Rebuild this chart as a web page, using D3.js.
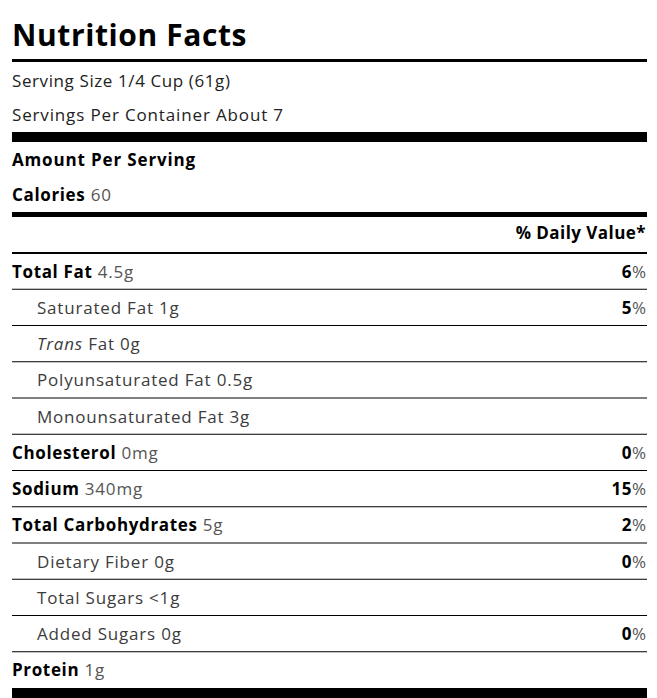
<!DOCTYPE html>
<html>
<head>
<meta charset="utf-8">
<script src="https://cdn.jsdelivr.net/npm/d3@7/dist/d3.min.js"></script>
<style>
  html, body { margin: 0; padding: 0; background: #fff; }
  svg { display: block; }
  text { font-family: "Open Sans", "DejaVu Sans", sans-serif; }
</style>
</head>
<body>
<svg id="chart" width="657" height="698"></svg>
<script>
// ---- data ----
const title = "Nutrition Facts";
const servingSize = "Serving Size 1/4 Cup (61g)";
const servingsPer = "Servings Per Container About 7";
const amountHeader = "Amount Per Serving";
const caloriesLabel = "Calories";
const caloriesValue = "60";
const dvHeader = "% Daily Value*";

const nutrients = ["Total Fat", "Saturated Fat", "Trans Fat", "Polyunsaturated Fat", "Monounsaturated Fat",
  "Cholesterol", "Sodium", "Total Carbohydrates", "Dietary Fiber", "Total Sugars", "Added Sugars", "Protein"];
const amounts = ["4.5g", "1g", "0g", "0.5g", "3g", "0mg", "340mg", "5g", "0g", "<1g", "0g", "1g"];
const dailyValues = [6, 5, null, null, null, 0, 15, 2, 0, null, 0, null];
const isSub = [false, true, true, true, true, false, false, false, true, true, true, false];

const rows = nutrients.map((n, i) => ({ name: n, amount: amounts[i], dv: dailyValues[i], sub: isSub[i] }));

// ---- layout ----
const svg = d3.select("#chart");
const X0 = 12, X1 = 647;
const x = d3.scaleLinear().domain([0, 1]).range([X0, X1]);
const y = d3.scaleBand().domain(d3.range(rows.length)).range([253, 688]).padding(0);

const dark = "#222", subc = "#3c3c3c", gray = "#555";
const fs = 17, lsR = 0.8, lsB = 0.65;

svg.append("text").attr("x", X0).attr("y", 46)
  .attr("font-size", 30).attr("font-weight", 700).attr("fill", "#000")
  .attr("letter-spacing", 0.6).text(title);

function bar(y0, h) {
  svg.append("rect").attr("x", x(0)).attr("y", y0).attr("width", x(1) - x(0)).attr("height", h).attr("fill", "#000");
}
bar(59, 3);

svg.append("text").attr("x", X0).attr("y", 87).attr("font-size", fs).attr("fill", dark)
  .attr("letter-spacing", 0.6).text(servingSize);
svg.append("text").attr("x", X0).attr("y", 121).attr("font-size", fs).attr("fill", dark)
  .attr("letter-spacing", 0.85).text(servingsPer);

bar(132, 10);

svg.append("text").attr("x", X0).attr("y", 166).attr("font-size", fs).attr("font-weight", 700)
  .attr("fill", "#000").attr("letter-spacing", 0.85).text(amountHeader);

const cal = svg.append("text").attr("x", X0).attr("y", 201).attr("font-size", fs);
cal.append("tspan").attr("font-weight", 700).attr("fill", "#000").attr("letter-spacing", lsB).text(caloriesLabel);
cal.append("tspan").attr("fill", gray).attr("letter-spacing", lsR).text(" " + caloriesValue);

bar(212, 5);

svg.append("text").attr("x", 646).attr("y", 239).attr("text-anchor", "end").attr("font-size", fs)
  .attr("font-weight", 700).attr("fill", "#000").attr("letter-spacing", 0.45).text(dvHeader);

bar(252, 2);

const g = svg.append("g");
const row = g.selectAll("g.row").data(rows).join("g").attr("class", "row")
  .attr("transform", (d, i) => `translate(0,${y(i)})`);

// separators between rows
row.filter((d, i) => i > 0).append("rect")
  .attr("x", x(0)).attr("y", -0.5).attr("width", x(1) - x(0)).attr("height", 1).attr("fill", "#000");

const label = row.append("text")
  .attr("x", d => d.sub ? 37 : X0)
  .attr("y", 24.5)
  .attr("font-size", fs);

label.each(function(d) {
  const t = d3.select(this);
  if (d.sub) {
    if (d.name.startsWith("Trans")) {
      t.append("tspan").attr("font-style", "italic").attr("fill", subc).attr("letter-spacing", lsR).text("Trans");
      t.append("tspan").attr("fill", subc).attr("letter-spacing", lsR).text(" Fat " + d.amount);
    } else {
      t.append("tspan").attr("fill", subc).attr("letter-spacing", lsR).text(d.name + " " + d.amount);
    }
  } else {
    t.append("tspan").attr("font-weight", 700).attr("fill", "#000").attr("letter-spacing", lsB).text(d.name);
    t.append("tspan").attr("fill", gray).attr("letter-spacing", lsR).text(" " + d.amount);
  }
});

const pct = row.filter(d => d.dv !== null).append("text")
  .attr("x", 646).attr("y", 24.5).attr("text-anchor", "end").attr("font-size", fs);
pct.append("tspan").attr("font-weight", 700).attr("fill", "#000").attr("letter-spacing", 0.5).text(d => d.dv);
pct.append("tspan").attr("fill", gray).text("%");

// bottom thick bar
bar(y.range()[1], 12);
</script>
</body>
</html>
